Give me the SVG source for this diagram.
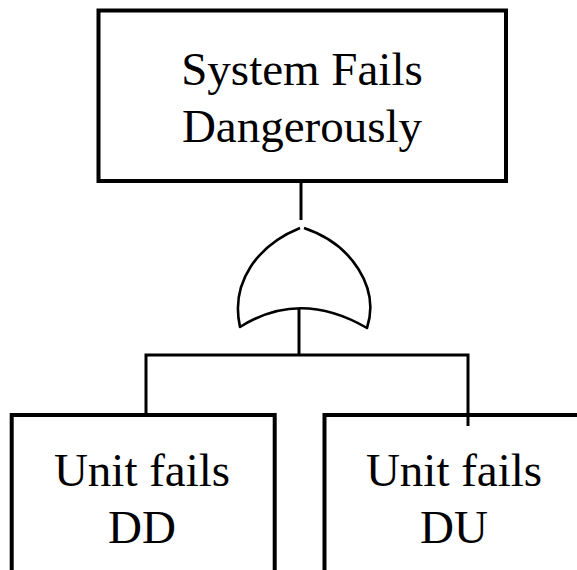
<svg xmlns="http://www.w3.org/2000/svg" width="577" height="570" viewBox="0 0 577 570">
<style>
.box{fill:#fff;stroke:#000;stroke-width:4}
.lbl{font-family:"Liberation Serif","Times New Roman",serif;font-size:47px;fill:#000;text-anchor:middle}
.wire{fill:none;stroke:#000;stroke-width:3}
.gate{fill:#fff;stroke:#000;stroke-width:2.6;stroke-linejoin:round}
</style>
<rect width="577" height="570" fill="#fff"/>
<g id="connectors">
<line class="wire" x1="301" y1="181" x2="301" y2="220"/>
<line class="wire" x1="299" y1="308" x2="299" y2="355"/>
<polyline class="wire" points="146,415 146,355 468,355 468,426"/>
</g>
<g id="top-event">
<rect class="box" x="98.5" y="10.5" width="407.5" height="170.5"/>
<text class="lbl" x="302" y="85">System Fails</text>
<text class="lbl" x="302" y="142">Dangerously</text>
</g>
<g id="or-gate">
<path class="gate" d="M300 228 C258 245 230 282 240 327 Q300 289 367 328 C380 288 352 244 304 228"/>
</g>
<g id="unit-dd">
<rect class="box" x="11.7" y="415" width="263" height="200"/>
<text class="lbl" x="142" y="486">Unit fails</text>
<text class="lbl" x="142" y="543">DD</text>
</g>
<g id="unit-du">
<rect class="box" x="324.5" y="415" width="300" height="200"/>
<text class="lbl" x="454" y="486">Unit fails</text>
<text class="lbl" x="454" y="543">DU</text>
</g>
<line class="wire" x1="468" y1="415" x2="468" y2="426"/>
</svg>
